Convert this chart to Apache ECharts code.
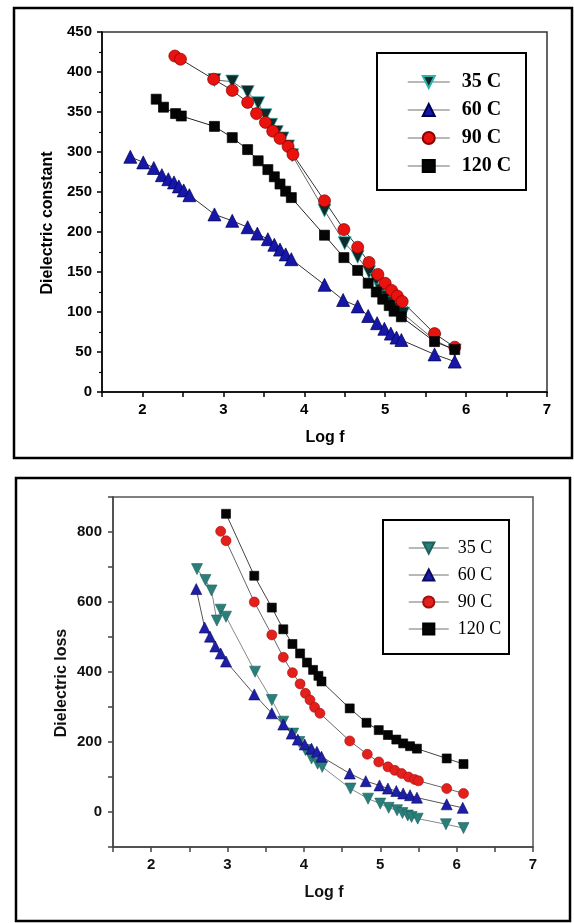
<!DOCTYPE html>
<html>
<head>
<meta charset="utf-8">
<script src="https://cdn.jsdelivr.net/npm/echarts@6/dist/echarts.min.js"></script>
<style>
html,body{margin:0;padding:0;background:#fff;}
#c1{position:absolute;left:0;top:0;width:574px;height:465px;}
#c2{position:absolute;left:0;top:465px;width:574px;height:458px;}
</style>
</head>
<body>
<div id="c1"></div>
<div id="c2"></div>
<script>
// ---------- Data: Dielectric constant vs Log f ----------
const seriesNames = ['35 C', '60 C', '90 C', '120 C'];

const constX35 = [2.89,3.11,3.30,3.43,3.52,3.59,3.66,3.73,3.80,3.85,4.25,4.50,4.66,4.80,4.89,4.95,5.02,5.09,5.16,5.22,5.61,5.86];
const constY35 = [390,388,375,361,346,334,325,317,307,296,227,186,169,150,140,127,119,111,104,98,65,52];

const constX60 = [1.85,2.01,2.14,2.24,2.32,2.39,2.45,2.51,2.58,2.89,3.11,3.30,3.42,3.55,3.63,3.70,3.77,3.84,4.25,4.48,4.66,4.79,4.90,4.99,5.07,5.14,5.20,5.61,5.86];
const constY60 = [294,287,280,271,266,262,257,252,246,222,214,206,198,191,184,178,172,166,134,115,107,95,86,79,73,68,65,47,38];

const constX90 = [2.40,2.47,2.88,3.11,3.30,3.41,3.52,3.61,3.70,3.80,3.86,4.25,4.49,4.66,4.80,4.91,5.00,5.08,5.15,5.21,5.61,5.86];
const constY90 = [420,416,391,377,362,348,337,326,317,307,297,239,203,181,162,147,136,127,120,113,73,56];

const constX120 = [2.17,2.26,2.41,2.48,2.89,3.11,3.30,3.43,3.55,3.63,3.70,3.77,3.84,4.25,4.49,4.66,4.79,4.89,4.97,5.05,5.11,5.20,5.61,5.86];
const constY120 = [366,356,348,345,332,318,303,289,278,269,260,251,243,196,168,152,136,125,116,108,101,94,63,53];

// ---------- Data: Dielectric loss vs Log f ----------
const lossX35 = [2.60,2.71,2.79,2.86,2.91,2.98,3.36,3.58,3.73,3.86,3.94,4.02,4.10,4.18,4.24,4.61,4.84,5.00,5.11,5.22,5.29,5.36,5.41,5.49,5.86,6.09];
const lossY35 = [694,663,633,547,578,558,401,320,258,224,200,177,153,138,129,67,38,24,12,5,-3,-10,-14,-19,-35,-46];

const lossX60 = [2.59,2.70,2.77,2.84,2.91,2.98,3.35,3.58,3.73,3.84,3.92,4.01,4.10,4.17,4.23,4.60,4.81,4.99,5.10,5.21,5.30,5.39,5.48,5.87,6.08];
const lossY60 = [637,527,501,473,453,430,336,282,250,224,207,193,181,172,158,110,88,76,67,60,53,48,41,22,12];

const lossX90 = [2.91,2.98,3.35,3.58,3.73,3.85,3.95,4.02,4.08,4.14,4.21,4.60,4.83,4.98,5.10,5.19,5.28,5.37,5.45,5.50,5.87,6.09];
const lossY90 = [802,775,600,506,442,398,366,339,320,299,282,203,165,143,129,119,110,100,93,89,67,53];

const lossX120 = [2.98,3.35,3.58,3.73,3.85,3.95,4.04,4.12,4.19,4.23,4.60,4.82,4.98,5.10,5.21,5.30,5.39,5.48,5.87,6.09];
const lossY120 = [852,675,584,522,480,453,427,406,389,373,296,255,234,220,207,196,188,181,153,137];

// tick labels
const xTickLabels = [2,3,4,5,6,7];
const constTickLabels = [0,50,100,150,200,250,300,350,400,450];
const lossTickLabels = [0,200,400,600,800];

function zip(xs, ys){ return xs.map((x,i)=>[x, ys[i]]); }

const sansBold = {fontFamily:'Liberation Sans, Arial, sans-serif', fontWeight:'bold', color:'#000'};

function xAxisOpt(){
  return {
    type:'value', min:1.5, max:7, interval:0.5,
    axisLine:{show:true, onZero:false, lineStyle:{color:'#000', width:1.5}},
    axisTick:{show:true, inside:false, length:5, lineStyle:{color:'#000', width:1.5}},
    axisLabel:Object.assign({fontSize:15, margin:10, formatter:v=> xTickLabels.indexOf(v)>=0 ? String(v) : ''}, sansBold),
    splitLine:{show:false}
  };
}

// ---------- Chart 1 ----------
const c1 = echarts.init(document.getElementById('c1'), null, {renderer:'canvas'});
const topStyles = [
  {symbol:'triangle', rot:180, size:13, color:'#0e2a29', border:'#2fb3ad', line:'#666'},
  {symbol:'triangle', rot:0, size:13, color:'#1616a8', border:'#000050', line:'#333'},
  {symbol:'circle', rot:0, size:12, color:'#e8120e', border:'#8a0000', line:'#333'},
  {symbol:'rect', rot:0, size:10, color:'#050505', border:'#000', line:'#222'}
];
const topData = [zip(constX35,constY35), zip(constX60,constY60), zip(constX90,constY90), zip(constX120,constY120)];

c1.setOption({
  animation:false,
  grid:{left:102, top:32, width:445, height:360, show:true, borderColor:'#333', borderWidth:1.5, backgroundColor:'transparent'},
  xAxis:xAxisOpt(),
  yAxis:{
    type:'value', min:0, max:450, interval:50,
    axisLine:{show:true, lineStyle:{color:'#000', width:1.5}},
    axisTick:{show:true, length:5, lineStyle:{color:'#000', width:1.5}},
    minorTick:{show:true, splitNumber:2, length:3, lineStyle:{color:'#000', width:1.2}},
    axisLabel:Object.assign({fontSize:15, margin:10, formatter:v=> constTickLabels.indexOf(v)>=0 ? String(v) : ''}, sansBold),
    splitLine:{show:false}
  },
  legend:{
    orient:'vertical', left:402, top:67, itemWidth:42, itemHeight:15, itemGap:8,
    data:seriesNames,
    lineStyle:{color:'#a0a0a0', width:1.5},
    textStyle:{fontFamily:'Liberation Serif, Times New Roman, serif', fontWeight:'bold', fontSize:20, lineHeight:20, color:'#000', padding:[0,0,0,7]}
  },
  graphic:[
    {type:'rect', shape:{x:14, y:8, width:558, height:450}, style:{fill:'none', stroke:'#000', lineWidth:2.5}, silent:true},
    {type:'rect', shape:{x:377, y:53, width:149, height:137}, style:{fill:'none', stroke:'#000', lineWidth:2}, silent:true},
    {type:'text', x:48, y:223, rotation:Math.PI/2, style:{text:'Dielectric constant', fontFamily:'Liberation Sans, Arial, sans-serif', fontWeight:'bold', fontSize:16, fill:'#000', textAlign:'center', textVerticalAlign:'middle'}},
    {type:'text', x:325, y:438, style:{text:'Log f', fontFamily:'Liberation Sans, Arial, sans-serif', fontWeight:'bold', fontSize:16, fill:'#000', textAlign:'center', textVerticalAlign:'middle'}}
  ],
  series:seriesNames.map((n,i)=>({
    name:n, type:'line', data:topData[i],
    symbol:topStyles[i].symbol, symbolRotate:topStyles[i].rot, symbolSize:topStyles[i].size,
    showAllSymbol:true,
    itemStyle:{color:topStyles[i].color, borderColor:topStyles[i].border, borderWidth:0.7},
    lineStyle:{color:topStyles[i].line, width:1},
    emphasis:{disabled:true}
  }))
});

// ---------- Chart 2 ----------
const c2 = echarts.init(document.getElementById('c2'), null, {renderer:'canvas'});
const botStyles = [
  {symbol:'triangle', rot:180, size:11, color:'#2a7f7a', border:'#1d5f5b', line:'#888'},
  {symbol:'triangle', rot:0, size:11, color:'#1e1ea6', border:'#0a0a60', line:'#555'},
  {symbol:'circle', rot:0, size:10, color:'#e3201c', border:'#a01010', line:'#666'},
  {symbol:'rect', rot:0, size:9, color:'#050505', border:'#000', line:'#444'}
];
const botData = [zip(lossX35,lossY35), zip(lossX60,lossY60), zip(lossX90,lossY90), zip(lossX120,lossY120)];

const x2 = xAxisOpt();
x2.axisLine.lineStyle.color = '#444';
x2.axisTick.lineStyle.color = '#444';
x2.axisLabel.color = '#111';

c2.setOption({
  animation:false,
  grid:{left:113, top:32, width:420, height:350, show:true, borderColor:'#555', borderWidth:1.5, backgroundColor:'transparent'},
  xAxis:x2,
  yAxis:{
    type:'value', min:-100, max:900, interval:100,
    axisLine:{show:true, lineStyle:{color:'#444', width:1.5}},
    axisTick:{show:true, length:5, lineStyle:{color:'#444', width:1.5}},
    axisLabel:Object.assign({}, sansBold, {color:'#111', fontSize:15, margin:11, formatter:v=> lossTickLabels.indexOf(v)>=0 ? String(v) : ''}),
    splitLine:{show:false}
  },
  legend:{
    orient:'vertical', left:403, top:69, itemWidth:40, itemHeight:14, itemGap:9,
    data:seriesNames,
    lineStyle:{color:'#a0a0a0', width:1.5},
    textStyle:{fontFamily:'Liberation Serif, Times New Roman, serif', fontSize:18, lineHeight:18, color:'#000', padding:[0,0,0,4]}
  },
  graphic:[
    {type:'rect', shape:{x:16, y:13, width:554, height:443}, style:{fill:'none', stroke:'#000', lineWidth:2.5}, silent:true},
    {type:'rect', shape:{x:383, y:55, width:126, height:134}, style:{fill:'none', stroke:'#000', lineWidth:2}, silent:true},
    {type:'text', x:62, y:218, rotation:Math.PI/2, style:{text:'Dielectric loss', fontFamily:'Liberation Sans, Arial, sans-serif', fontWeight:'bold', fontSize:16, fill:'#111', textAlign:'center', textVerticalAlign:'middle'}},
    {type:'text', x:324, y:428, style:{text:'Log f', fontFamily:'Liberation Sans, Arial, sans-serif', fontWeight:'bold', fontSize:16, fill:'#111', textAlign:'center', textVerticalAlign:'middle'}}
  ],
  series:seriesNames.map((n,i)=>({
    name:n, type:'line', data:botData[i],
    symbol:botStyles[i].symbol, symbolRotate:botStyles[i].rot, symbolSize:botStyles[i].size,
    showAllSymbol:true,
    itemStyle:{color:botStyles[i].color, borderColor:botStyles[i].border, borderWidth:0.6},
    lineStyle:{color:botStyles[i].line, width:1},
    emphasis:{disabled:true}
  }))
});
</script>
</body>
</html>
